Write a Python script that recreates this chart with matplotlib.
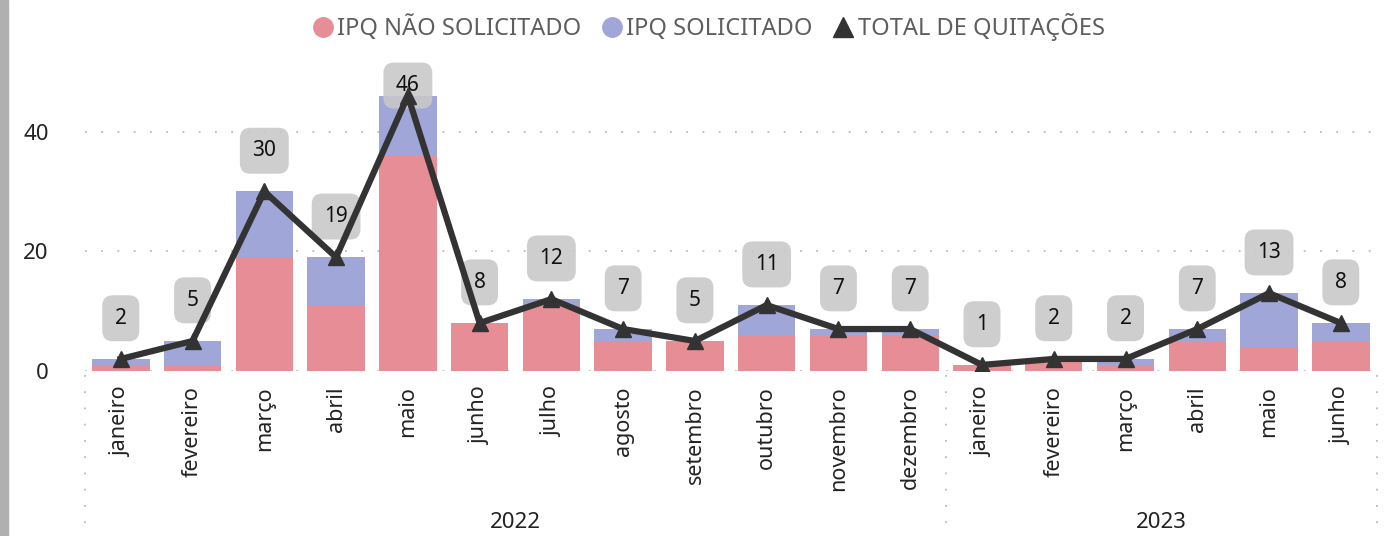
import numpy as np
import matplotlib.pyplot as plt
from matplotlib.patches import Rectangle
from matplotlib.lines import Line2D

plt.rcParams['font.family'] = ['Noto Sans', 'DejaVu Sans']

meses = ["janeiro", "fevereiro", "março", "abril", "maio", "junho", "julho",
         "agosto", "setembro", "outubro", "novembro", "dezembro",
         "janeiro", "fevereiro", "março", "abril", "maio", "junho"]
anos = ["2022", "2023"]
nao_solicitado = [1, 1, 19, 11, 36, 8, 11, 5, 5, 6, 6, 6, 1, 2, 1, 5, 4, 5]
solicitado = [1, 4, 11, 8, 10, 0, 1, 2, 0, 5, 1, 1, 0, 0, 1, 2, 9, 3]
total = [2, 5, 30, 19, 46, 8, 12, 7, 5, 11, 7, 7, 1, 2, 2, 7, 13, 8]

PINK = '#E68D95'
BLUE = '#A0A7D8'
LINE = '#333333'

fig = plt.figure(figsize=(13.92, 5.36), dpi=100)
ax = fig.add_axes([0.061, 0.308, 0.928, 0.567])
x = np.arange(len(meses))

ax.bar(x, nao_solicitado, width=0.8, color=PINK, zorder=2)
ax.bar(x, solicitado, width=0.8, bottom=nao_solicitado, color=BLUE, zorder=2)
ax.plot(x, total, color=LINE, lw=4.5, marker='^', markersize=11, zorder=4,
        solid_joinstyle='miter')

ax.set_xlim(-0.5, 17.5)
ax.set_ylim(0, 50.8)
for i, v in enumerate(total):
    ly = min(v + 6.8, 47.7)
    ax.text(i, ly, str(v), ha='center', va='center', fontsize=15, color='#111111',
            zorder=3,
            bbox=dict(boxstyle='round,pad=0.6,rounding_size=0.5',
                      fc='#c8c8c8', ec='none', alpha=0.88))

ax.set_yticks([0, 20, 40])
ax.tick_params(axis='y', length=0, pad=26, labelsize=16, labelcolor='#222222')
ax.set_xticks(x)
ax.set_xticklabels(meses, rotation=90, fontsize=15.5, color='#222222')
ax.tick_params(axis='x', length=0, pad=11)
for s in ax.spines.values():
    s.set_visible(False)
for yv in [0, 20, 40]:
    ax.axhline(yv, color='#bbbbbb', lw=1.3, ls=(0, (1, 8)), zorder=1)

# separadores de ano
for xs in [-0.5, 11.5, 17.5]:
    ax.add_line(Line2D([xs, xs], [-0.015, -0.55], transform=ax.get_xaxis_transform(),
                       color='#bbbbbb', lw=1.3, ls=(0, (1, 8)), clip_on=False))
ax.text(5.5, -0.5, anos[0], transform=ax.get_xaxis_transform(), ha='center',
        va='center', fontsize=16, color='#222222')
ax.text(14.5, -0.5, anos[1], transform=ax.get_xaxis_transform(), ha='center',
        va='center', fontsize=16, color='#222222')

# legenda
handles = [Line2D([], [], ls='none', marker='o', markersize=14, color=PINK),
           Line2D([], [], ls='none', marker='^', markersize=14, color=BLUE),
           Line2D([], [], ls='none', marker='^', markersize=14, color=LINE)]
handles[1] = Line2D([], [], ls='none', marker='o', markersize=14, color=BLUE)
fig.legend(handles, ["IPQ NÃO SOLICITADO", "IPQ SOLICITADO", "TOTAL DE QUITAÇÕES"],
           loc='center', bbox_to_anchor=(0.506, 0.95), ncol=3, frameon=False,
           fontsize=17, handletextpad=-0.2, columnspacing=0.5,
           handlelength=1.6, labelcolor='#605E5C')

fig.add_artist(Rectangle((0, 0), 8 / 1392, 1, transform=fig.transFigure,
                         color='#b0b0b0'))

fig.savefig('out.png', dpi=100)
